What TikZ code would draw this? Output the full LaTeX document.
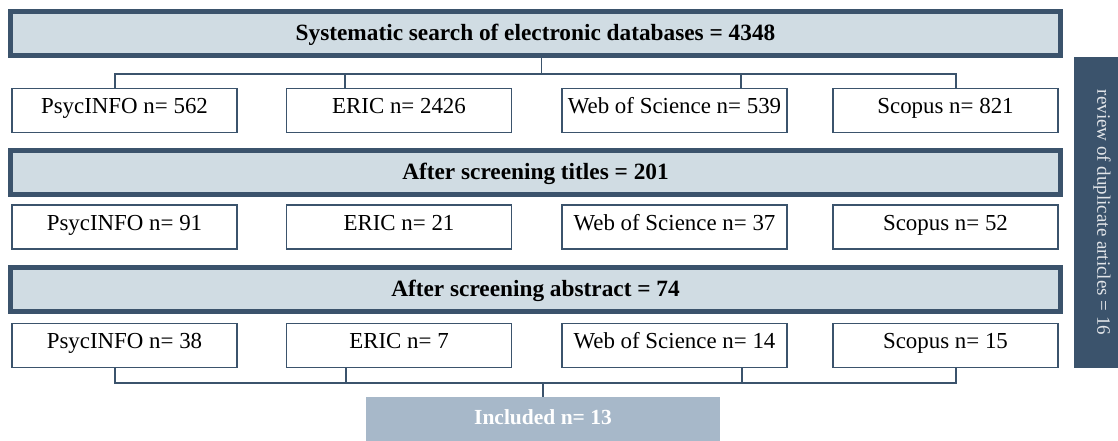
\documentclass[tikz,border=0pt]{standalone}
\usepackage{fontspec}
\setmainfont{Liberation Serif}

\definecolor{navy}{RGB}{59,83,108}
\definecolor{paleblue}{RGB}{208,220,227}
\definecolor{greyblue}{RGB}{167,184,201}

\begin{document}
\begin{tikzpicture}[x=1pt, y=-1pt,
  stage/.style={draw=navy, line width=5pt, fill=paleblue, minimum width=1050pt, minimum height=44pt, inner sep=0pt, text height=16pt, text depth=2pt, font=\fontsize{23.3}{26}\selectfont\bfseries},
  dbbox/.style={draw=navy, line width=1.5pt, fill=white, minimum width=225pt, minimum height=44pt, inner sep=0pt, text height=12pt, text depth=6pt, font=\fontsize{22.9}{26}\selectfont},
  link/.style={draw=navy, line width=1.5pt}]
  \useasboundingbox (0,0) rectangle (1118,441);

  % Stages
  \node[stage] (search) at (535.5,33.5) {Systematic search of electronic databases = 4348};
  \node[stage] (titles) at (535.5,172.5) {After screening titles = 201};
  \node[stage] (abstract) at (535.5,289) {After screening abstract = 74};

  % Databases, first search
  \node[dbbox] (psyc1) at (124.5,110.5) {PsycINFO n= 562};
  \node[dbbox] (eric1) at (399,110.5) {ERIC n= 2426};
  \node[dbbox] (wos1) at (674.5,110.5) {Web of Science n= 539};
  \node[dbbox] (scop1) at (945.5,110.5) {Scopus n= 821};

  % Databases, titles
  \node[dbbox] (psyc2) at (124.5,227) {PsycINFO n= 91};
  \node[dbbox] (eric2) at (399,227) {ERIC n= 21};
  \node[dbbox] (wos2) at (674.5,227) {Web of Science n= 37};
  \node[dbbox] (scop2) at (945.5,227) {Scopus n= 52};

  % Databases, abstracts
  \node[dbbox] (psyc3) at (124.5,345.5) {PsycINFO n= 38};
  \node[dbbox] (eric3) at (399,345.5) {ERIC n= 7};
  \node[dbbox] (wos3) at (674.5,345.5) {Web of Science n= 14};
  \node[dbbox] (scop3) at (945.5,345.5) {Scopus n= 15};

  % Result and duplicates
  \node[fill=greyblue, minimum width=354pt, minimum height=44pt, text=white, text height=14pt, text depth=4pt, font=\fontsize{21.5}{24}\selectfont\bfseries] (included) at (543,419) {Included n= 13};
  \node[fill=navy, minimum width=311pt, minimum height=56pt, rotate=-90, text=white!85!navy, font=\fontsize{19}{22}\selectfont] (dupes) at (1102,212.5) {review of duplicate articles = 16};

  % Connectors
  \coordinate (bustop) at (541.5,74);
  \coordinate (busbottom) at (543,383);
  \draw[link] ([xshift=6]search.south) -- (bustop);
  \draw[link] ([xshift=-9.5]psyc1.north) |- (bustop);
  \draw[link] ([xshift=-54]eric1.north) |- (bustop);
  \draw[link] ([xshift=66.5]wos1.north) |- (bustop);
  \draw[link] ([xshift=10.5]scop1.north) |- (bustop);

  \draw[link] ([xshift=-9.5]psyc3.south) |- (busbottom);
  \draw[link] ([xshift=-53]eric3.south) |- (busbottom);
  \draw[link] ([xshift=67.5]wos3.south) |- (busbottom);
  \draw[link] ([xshift=10.5]scop3.south) |- (busbottom);
  \draw[link] (busbottom) -- (included.north);
\end{tikzpicture}
\end{document}
